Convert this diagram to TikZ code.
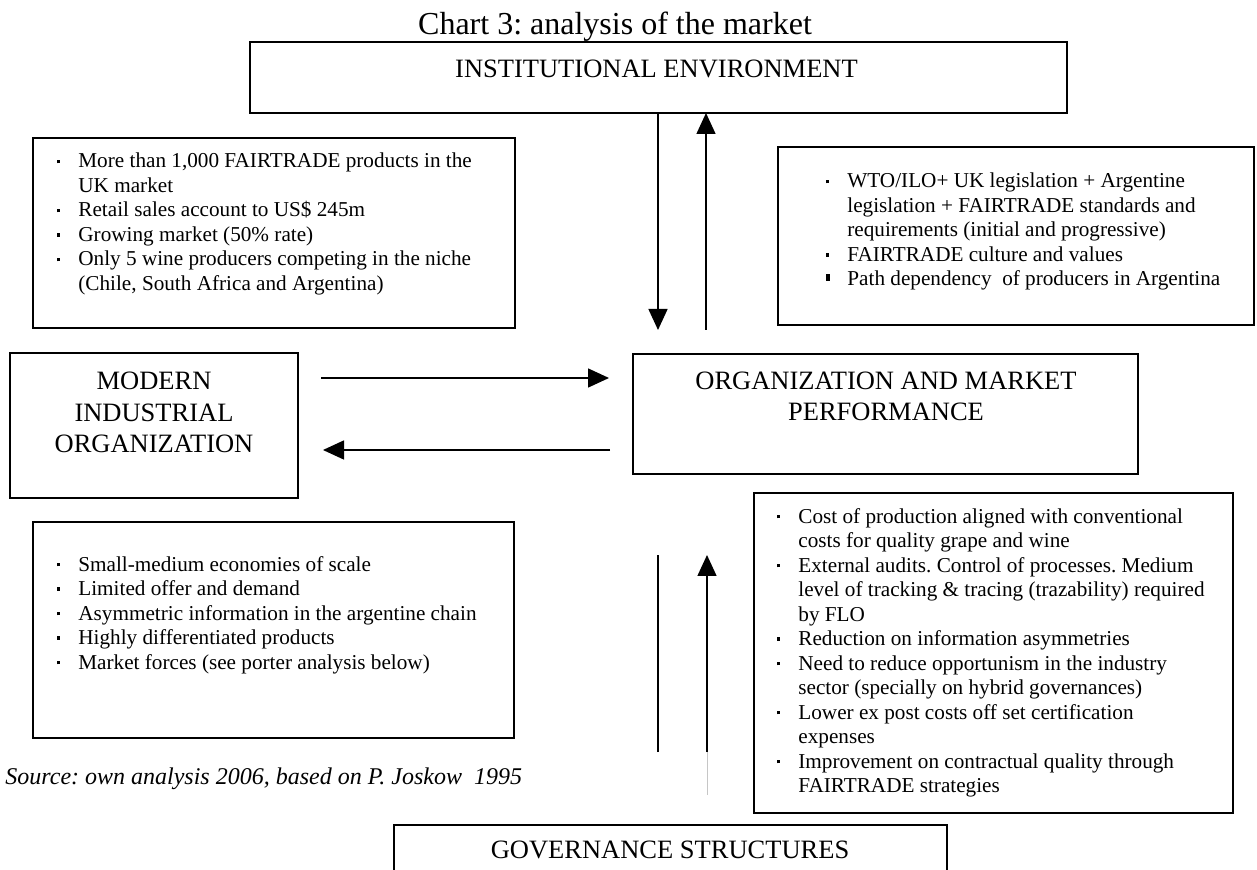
\documentclass[tikz,border=0pt]{standalone}
\usepackage{fontspec}
\setmainfont{Liberation Serif}
\usetikzlibrary{arrows.meta}
\frenchspacing
\newcommand{\bdot}{\llap{\rule[2.3pt]{1.6pt}{1.8pt}\hspace{9pt}}}
\newcommand{\bsq}{\llap{\rule[2.6pt]{2.4pt}{3.2pt}\hspace{8.5pt}}}
\begin{document}
\frenchspacing
\begin{tikzpicture}[x=0.5pt,y=-0.5pt,
  box/.style={draw, line width=1pt, inner sep=0pt, outer sep=0pt},
  lbl/.style={font=\fontsize{13.25pt}{15.75pt}\selectfont, inner sep=0pt, align=center, anchor=base},
  blt/.style={font=\fontsize{10.6pt}{12.25pt}\selectfont, inner sep=0pt, align=left, anchor=base west},
  arr/.style={line width=0.75pt, -{Triangle[length=10.5pt,width=9.5pt]}},
  plainline/.style={line width=0.75pt}]
\useasboundingbox (0,0) rectangle (1257,870);
\clip (0,0) rectangle (1257,870);
% title
\node[font=\fontsize{16pt}{19pt}\selectfont, inner sep=0pt, anchor=base] (title) at (615,35) {Chart 3: analysis of the market};
% boxes
\node[box, minimum width=408.5pt, minimum height=35.5pt] (inst) at (658.5,77.5) {};
\node[box, minimum width=241pt, minimum height=95pt] (tl) at (274,233) {};
\node[box, minimum width=238pt, minimum height=89pt] (tr) at (1016,236) {};
\node[box, minimum width=144pt, minimum height=72.5pt] (modern) at (154,425.5) {};
\node[box, minimum width=252.5pt, minimum height=60pt] (org) at (885.5,414) {};
\node[box, minimum width=240.5pt, minimum height=108pt] (bl) at (273.5,630) {};
\node[box, minimum width=239.5pt, minimum height=160pt] (br) at (993.5,653) {};
\node[box, minimum width=276.5pt, minimum height=37.5pt] (gov) at (670.5,862.5) {};
% labels (anchor base = baseline of last line)
\node[lbl] (instT) at (656.5,78) {INSTITUTIONAL ENVIRONMENT};
\node[lbl] (modernT) at (154,453) {MODERN\\INDUSTRIAL\\ORGANIZATION};
\node[lbl] (orgT) at (886,421) {ORGANIZATION AND MARKET\\PERFORMANCE};
\node[lbl] (govT) at (670,858) {GOVERNANCE STRUCTURES};
% bullet texts (anchor base west = baseline of last line)
\node[blt] (tlT) at (78,290.5) {\bdot More than 1,000 FAIRTRADE products in the\\UK market\\\bdot Retail sales account to US\$ 245m\\\bdot Growing market (50\% rate)\\\bdot Only 5 wine producers competing in the niche\\(Chile, South Africa and Argentina)};
\node[blt] (trT) at (847,286) {\bdot WTO/ILO+ UK legislation + Argentine\\legislation + FAIRTRADE standards and\\requirements (initial and progressive)\\\bdot FAIRTRADE culture and values\\\bsq Path dependency\ \ of producers in Argentina};
\node[blt] (blT) at (78,669) {\bdot Small-medium economies of scale\\\bdot Limited offer and demand\\\bdot Asymmetric information in the argentine chain\\\bdot Highly differentiated products\\\bdot Market forces (see porter analysis below)};
\node[blt] (brT) at (798,792.5) {\bdot Cost of production aligned with conventional\\costs for quality grape and wine\\\bdot External audits. Control of processes. Medium\\level of tracking \& tracing (trazability) required\\by FLO\\\bdot Reduction on information asymmetries\\\bdot Need to reduce opportunism in the industry\\sector (specially on hybrid governances)\\\bdot Lower ex post costs off set certification\\expenses\\\bdot Improvement on contractual quality through\\FAIRTRADE strategies};
\node[font=\fontsize{12pt}{14pt}\selectfont\itshape, inner sep=0pt, anchor=base west] (src) at (5,784) {Source: own analysis 2006, based on P. Joskow\ \ 1995};
% connector coordinates
\coordinate (dA) at (658,113);
\coordinate (dB) at (658,330);
\coordinate (uA) at (706,330);
\coordinate (uB) at (706,113);
\coordinate (rA) at (321,378);
\coordinate (rB) at (609,378);
\coordinate (lA) at (610,450);
\coordinate (lB) at (323,450);
\coordinate (vA) at (658,752);
\coordinate (vB) at (658,555);
\coordinate (wA) at (707,752);
\coordinate (wB) at (707,555);
\coordinate (wC) at (707,795);
% connectors
\draw[arr] (dA) -- (dB);
\draw[arr] (uA) -- (uB);
\draw[arr] (rA) -- (rB);
\draw[arr] (lA) -- (lB);
\draw[plainline] (vA) -- (vB);
\draw[arr] (wA) -- (wB);
\draw[line width=0.4pt, gray!45] (wA) -- (wC);
\end{tikzpicture}
\end{document}
